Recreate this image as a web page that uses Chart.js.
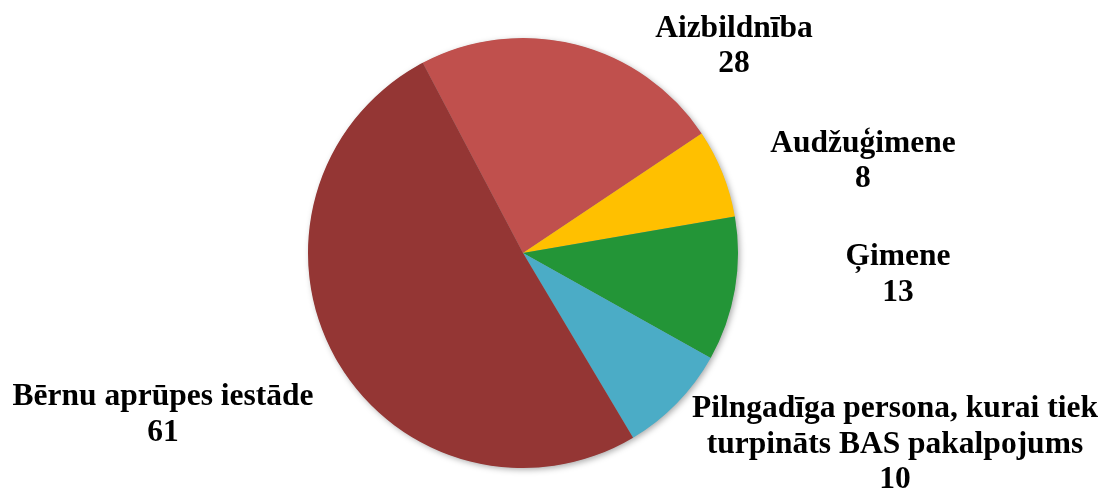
<!DOCTYPE html>
<html>
<head>
<meta charset="utf-8">
<script src="https://cdn.jsdelivr.net/npm/chart.js@4.4.1/dist/chart.umd.min.js"></script>
<style>
  html, body { margin: 0; padding: 0; background: #fff; }
  #wrap { width: 1102px; height: 493px; }
</style>
</head>
<body>
<div id="wrap"><canvas id="myChart" width="1102" height="493"></canvas></div>
<script>
// data
const categories = [
  'Aizbildnība',
  'Audžuģimene',
  'Ģimene',
  ['Pilngadīga persona, kurai tiek', 'turpināts BAS pakalpojums'],
  'Bērnu aprūpes iestāde'
];
const values = [28, 8, 13, 10, 61];
const colors = ['#C0504D', '#FFC000', '#239537', '#4BACC6', '#943634'];

// where each label sits, relative to the pie centre, in pie radii
const labelSpots = [
  [0.981, -1.005],
  [1.581, -0.470],
  [1.744, 0.056],
  [1.730, 0.763],
  [-1.674, 0.707]
];

const pieShadow = {
  id: 'pieShadow',
  beforeDatasetsDraw(chart) {
    const arc = chart.getDatasetMeta(0).data[0];
    if (!arc) return;
    const ctx = chart.ctx;
    ctx.save();
    ctx.shadowColor = 'rgba(0,0,0,0.35)';
    ctx.shadowBlur = 6;
    ctx.shadowOffsetX = 2;
    ctx.shadowOffsetY = 2;
    ctx.fillStyle = '#999';
    ctx.beginPath();
    ctx.arc(arc.x, arc.y, arc.outerRadius - 0.5, 0, Math.PI * 2);
    ctx.fill();
    ctx.restore();
  }
};

const outsideLabels = {
  id: 'outsideLabels',
  afterDatasetsDraw(chart) {
    const ctx = chart.ctx;
    const arcs = chart.getDatasetMeta(0).data;
    ctx.save();
    ctx.font = 'bold 31.5px "Liberation Serif", "Times New Roman", serif';
    ctx.fillStyle = '#000';
    ctx.textAlign = 'center';
    ctx.textBaseline = 'alphabetic';
    arcs.forEach((arc, i) => {
      const r = arc.outerRadius;
      const x = arc.x + labelSpots[i][0] * r;
      const y = arc.y + labelSpots[i][1] * r;
      const name = chart.data.labels[i];
      const lines = (Array.isArray(name) ? name : [name]).concat(String(values[i]));
      lines.forEach((t, k) => ctx.fillText(t, x, y + k * 35.5));
    });
    ctx.restore();
  }
};

new Chart(document.getElementById('myChart'), {
  type: 'pie',
  data: {
    labels: categories,
    datasets: [{
      data: values,
      backgroundColor: colors,
      borderWidth: 0
    }]
  },
  options: {
    responsive: false,
    animation: false,
    rotation: -27.8,
    layout: { padding: { left: 308, right: 364, top: 38, bottom: 25 } },
    plugins: {
      legend: { display: false },
      tooltip: { enabled: false }
    }
  },
  plugins: [pieShadow, outsideLabels]
});
</script>
</body>
</html>
